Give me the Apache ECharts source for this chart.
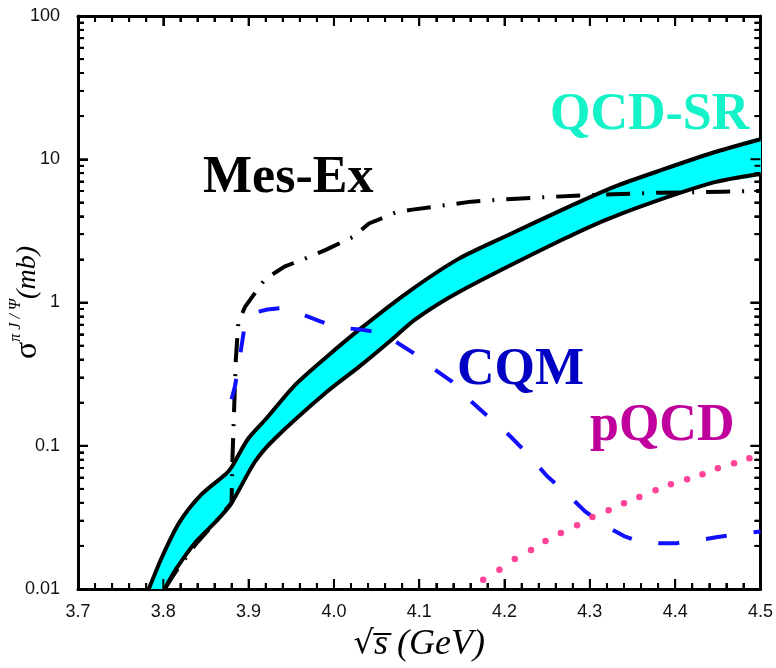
<!DOCTYPE html>
<html>
<head>
<meta charset="utf-8">
<script src="https://cdn.jsdelivr.net/npm/echarts@6/dist/echarts.min.js"></script>
<style>
html, body { margin: 0; padding: 0; background: #fff; }
#main { width: 776px; height: 668px; }
</style>
</head>
<body>
<div id="main"></div>
<script>
// tick labels
var xTickLabels = ['3.7', '3.8', '3.9', '4.0', '4.1', '4.2', '4.3', '4.4', '4.5'];
var yTickLabels = ['0.01', '0.1', '1', '10', '100'];

// QCD sum rule band (upper / lower edges)
var bandUpperX = [3.783, 3.799, 3.819, 3.845, 3.873, 3.880, 3.899, 3.920, 3.953, 3.990, 4.030, 4.085, 4.145, 4.200, 4.268, 4.329, 4.385, 4.444, 4.500];
var bandUpperY = [0.01, 0.017, 0.0293, 0.0459, 0.0633, 0.0708, 0.111, 0.153, 0.26, 0.41, 0.649, 1.16, 2.0, 2.88, 4.45, 6.43, 8.45, 11.1, 13.8];
var bandLowerX = [3.8016, 3.815, 3.838, 3.861, 3.879, 3.907, 3.930, 3.991, 4.030, 4.068, 4.095, 4.145, 4.268, 4.329, 4.444, 4.500];
var bandLowerY = [0.01, 0.0138, 0.0213, 0.0293, 0.039, 0.0767, 0.111, 0.236, 0.358, 0.552, 0.76, 1.17, 2.75, 4.0, 6.86, 7.9];

// meson exchange
var mesExX = [3.8016, 3.815, 3.838, 3.857, 3.880, 3.881, 3.883, 3.885, 3.888, 3.896, 3.919, 3.942, 3.972, 3.991, 4.023, 4.041, 4.072, 4.092, 4.126, 4.161, 4.214, 4.283, 4.383, 4.455, 4.500];
var mesExY = [0.01, 0.0133, 0.0206, 0.0275, 0.040, 0.08, 0.18, 0.40, 0.727, 0.937, 1.45, 1.78, 2.09, 2.34, 2.88, 3.56, 4.24, 4.45, 4.74, 5.06, 5.31, 5.57, 5.84, 5.94, 6.0];

// constituent quark model
var cqmX = [3.880, 3.884, 3.890, 3.896, 3.907, 3.922, 3.942, 3.957, 3.984, 4.003, 4.030, 4.045, 4.072, 4.092, 4.118, 4.138, 4.161, 4.179, 4.207, 4.225, 4.250, 4.270, 4.294, 4.313, 4.340, 4.356, 4.382, 4.402, 4.428, 4.448, 4.475, 4.500];
var cqmY = [0.211, 0.26, 0.428, 0.727, 0.851, 0.893, 0.922, 0.851, 0.738, 0.670, 0.649, 0.628, 0.535, 0.449, 0.341, 0.281, 0.204, 0.163, 0.116, 0.0902, 0.0612, 0.0482, 0.035, 0.0288, 0.0234, 0.0216, 0.0209, 0.0209, 0.0219, 0.023, 0.0242, 0.0252];

// perturbative QCD (dotted curve, one value per dot)
var pqcdX = [4.175, 4.194, 4.212, 4.231, 4.248, 4.266, 4.285, 4.303, 4.322, 4.340, 4.358, 4.377, 4.395, 4.414, 4.432, 4.450, 4.469, 4.487];
var pqcdY = [0.0116, 0.0136, 0.0162, 0.0187, 0.0216, 0.0246, 0.0279, 0.0318, 0.0355, 0.0397, 0.0438, 0.049, 0.0539, 0.0584, 0.0633, 0.0697, 0.0755, 0.0818];

function pairs(xs, ys) {
  var out = [];
  for (var i = 0; i < xs.length; i++) {
    out.push([xs[i], ys[i]]);
  }
  return out;
}

var upper = pairs(bandUpperX, bandUpperY);
var lower = pairs(bandLowerX, bandLowerY);

// tick positions: majors at the labels, 4 minors between x majors, 2..9 per decade on y
var xMajor = xTickLabels.map(Number);
var yMajor = yTickLabels.map(Number);
var xMinor = [];
for (var i = 0; i < xMajor.length - 1; i++) {
  for (var k = 1; k < 5; k++) xMinor.push(xMajor[i] + k * 0.02);
}
var yMinor = [];
for (var j = 0; j < yMajor.length - 1; j++) {
  for (var m = 2; m < 10; m++) yMinor.push(yMajor[j] * m);
}

var tickFont = 'Liberation Sans';
var labelFont = 'Liberation Serif';

function xLabel(v) {
  for (var i = 0; i < xTickLabels.length; i++) {
    if (Math.abs(+xTickLabels[i] - v) < 1e-6) return xTickLabels[i];
  }
  return '';
}
function yLabel(v) {
  for (var i = 0; i < yTickLabels.length; i++) {
    if (Math.abs(Math.log10(+yTickLabels[i]) - Math.log10(v)) < 1e-6) return yTickLabels[i];
  }
  return '';
}

function xAxisOpt(pos) {
  return {
    type: 'value',
    position: pos,
    min: 3.7,
    max: 4.5,
    interval: 0.1,
    axisLine: { show: true, lineStyle: { color: '#000', width: 3 } },
    axisTick: { show: true, inside: true, length: 10, lineStyle: { color: '#000', width: 2 } },
    minorTick: { show: true, splitNumber: 5, length: 6, lineStyle: { color: '#000', width: 2 } },
    splitLine: { show: false },
    axisLabel: {
      show: pos === 'bottom',
      margin: 14,
      fontFamily: tickFont,
      fontSize: 18,
      color: '#111',
      formatter: xLabel
    }
  };
}

function yAxisOpt(pos) {
  return {
    type: 'log',
    logBase: 10,
    position: pos,
    min: 0.01,
    max: 100,
    axisLine: { show: true, lineStyle: { color: '#000', width: 3 } },
    axisTick: { show: true, inside: true, length: 10, lineStyle: { color: '#000', width: 2 } },
    minorTick: { show: true, splitNumber: 9, length: 6, lineStyle: { color: '#000', width: 2 } },
    splitLine: { show: false },
    axisLabel: {
      show: pos === 'left',
      margin: 18,
      fontFamily: tickFont,
      fontSize: 18,
      color: '#111',
      formatter: yLabel
    }
  };
}

var xBottom = xAxisOpt('bottom');
xBottom.name = '{r|√}{s|s\u0305}{g| (GeV)}';
xBottom.nameLocation = 'middle';
xBottom.nameGap = 38;
xBottom.nameMoveOverlap = false;
xBottom.nameTextStyle = {
  rich: {
    r: { fontFamily: 'DejaVu Serif', fontSize: 32, color: '#000' },
    s: { fontFamily: labelFont, fontStyle: 'italic', fontSize: 36, color: '#000' },
    g: { fontFamily: labelFont, fontStyle: 'italic', fontSize: 36, color: '#000' }
  }
};

var yLeft = yAxisOpt('left');
yLeft.name = '{a|σ}{b|π J / Ψ}{c|(mb)}';
yLeft.nameLocation = 'middle';
yLeft.nameRotate = 90;
yLeft.nameGap = 30;
yLeft.nameMoveOverlap = false;
yLeft.nameTextStyle = {
  rich: {
    a: { fontFamily: labelFont, fontSize: 32, color: '#000', lineHeight: 40 },
    b: { fontFamily: labelFont, fontStyle: 'italic', fontSize: 16, color: '#000', verticalAlign: 'top', lineHeight: 40 },
    c: { fontFamily: labelFont, fontStyle: 'italic', fontSize: 28, color: '#000', lineHeight: 40 }
  }
};

function tickLine(a, b) {
  return { type: 'line', shape: { x1: a[0], y1: a[1], x2: b[0], y2: b[1] }, style: { stroke: '#000', lineWidth: 2, lineDash: null } };
}

var chart = echarts.init(document.getElementById('main'));

var option = {
  animation: false,
  grid: { left: 67, right: 15, top: 16, bottom: 78 },
  xAxis: [xBottom, xAxisOpt('top')],
  yAxis: [yLeft, yAxisOpt('right')],
  series: [
    {
      // band fill plus its two edges, smoothed the same way
      name: 'QCD-SR band',
      type: 'custom',
      z: 1,
      clip: true,
      data: [[4.0, 1]],
      renderItem: function (params, api) {
        var up = upper.map(function (p) { return api.coord(p); });
        var lo = lower.map(function (p) { return api.coord(p); });
        var poly = up.concat(lo.slice().reverse());
        return {
          type: 'group',
          children: [
            { type: 'polygon', shape: { points: poly, smooth: 0.25 }, style: { fill: '#00ffff' } },
            { type: 'polyline', shape: { points: up, smooth: 0.25 }, style: { stroke: '#000', lineWidth: 4, fill: null } },
            { type: 'polyline', shape: { points: lo, smooth: 0.25 }, style: { stroke: '#000', lineWidth: 4, fill: null } }
          ]
        };
      }
    },
    {
      name: 'Mes-Ex', type: 'line', z: 3, data: pairs(mesExX, mesExY), showSymbol: false,
      lineStyle: { color: '#000', width: 4, type: [24, 12, 2, 12] }
    },
    {
      name: 'CQM', type: 'line', z: 4, data: pairs(cqmX, cqmY), showSymbol: false,
      lineStyle: { color: '#1010ff', width: 4, type: [21, 27] }
    },
    {
      name: 'pQCD', type: 'scatter', z: 4, data: pairs(pqcdX, pqcdY),
      symbol: 'circle', symbolSize: 6.5,
      itemStyle: { color: '#ff1480' }
    },
    {
      // inward ticks on all four sides
      name: 'ticks',
      type: 'custom',
      z: 6,
      clip: false,
      data: [[4.0, 1]],
      renderItem: function (params, api) {
        var els = [];
        function xTicks(list, len) {
          list.forEach(function (x) {
            var b = api.coord([x, 0.01]);
            var t = api.coord([x, 100]);
            els.push(tickLine(b, [b[0], b[1] - len]));
            els.push(tickLine(t, [t[0], t[1] + len]));
          });
        }
        function yTicks(list, len) {
          list.forEach(function (y) {
            var l = api.coord([3.7, y]);
            var r = api.coord([4.5, y]);
            els.push(tickLine(l, [l[0] + len, l[1]]));
            els.push(tickLine(r, [r[0] - len, r[1]]));
          });
        }
        xTicks(xMajor, 10);
        xTicks(xMinor, 6);
        yTicks(yMajor, 10);
        yTicks(yMinor, 6);
        return { type: 'group', children: els };
      }
    }
  ],
  graphic: [
    { type: 'text', left: 550, top: 90, style: { text: 'QCD-SR', font: 'bold 52px "Liberation Serif"', fill: '#14f2c8' } },
    { type: 'text', left: 203, top: 153, style: { text: 'Mes-Ex', font: 'bold 52px "Liberation Serif"', fill: '#000' } },
    { type: 'text', left: 457, top: 345, style: { text: 'CQM', font: 'bold 52px "Liberation Serif"', fill: '#0000c4' } },
    { type: 'text', left: 590, top: 401, style: { text: 'pQCD', font: 'bold 52px "Liberation Serif"', fill: '#c0009c' } }
  ]
};

chart.setOption(option);
</script>
</body>
</html>
